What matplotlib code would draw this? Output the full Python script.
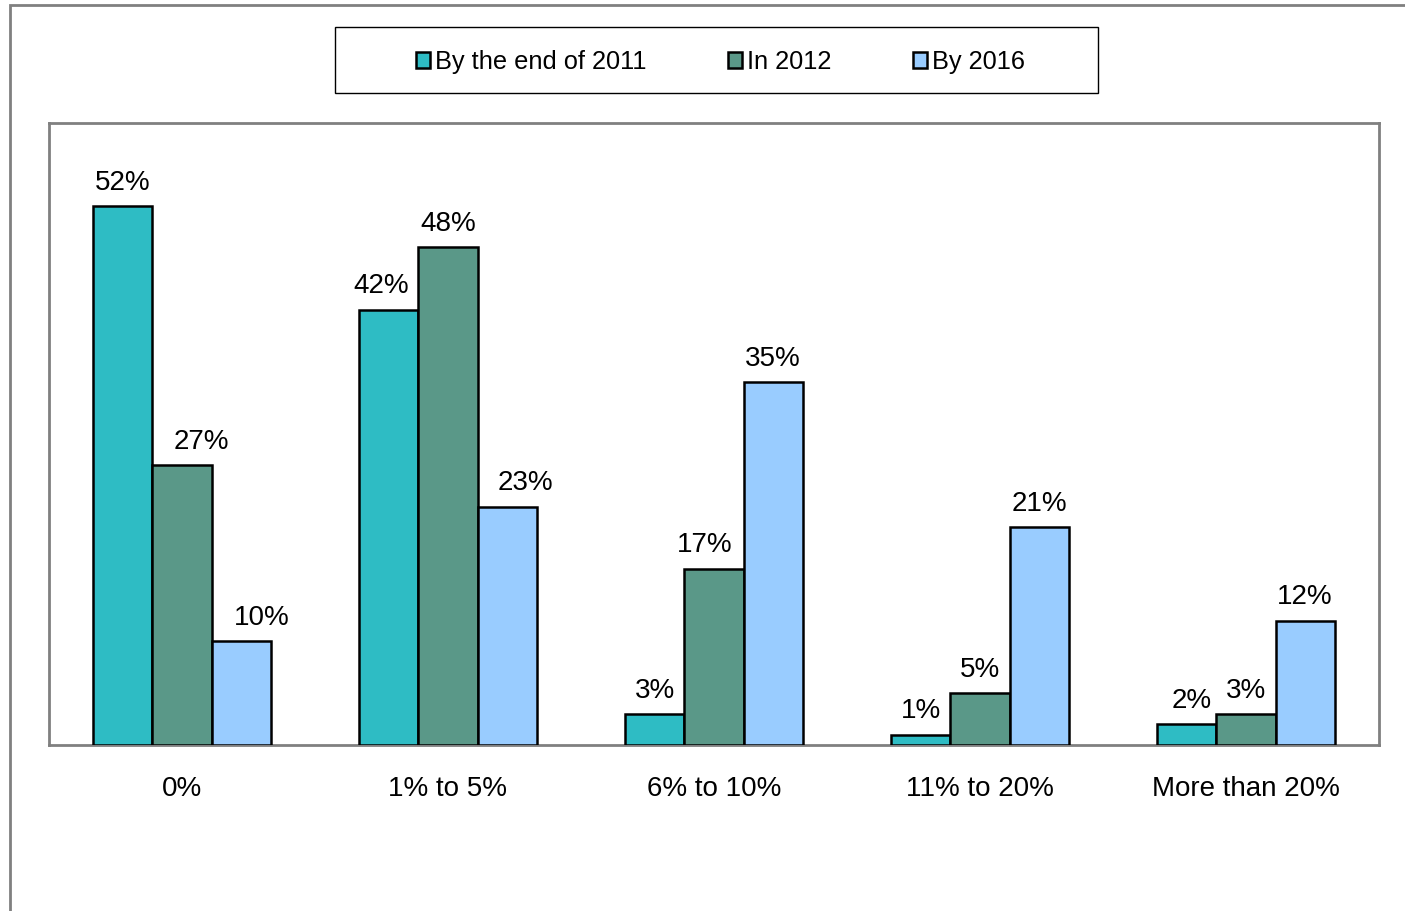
import matplotlib
matplotlib.use('Agg')
from matplotlib import pyplot as plt
from matplotlib.patches import Rectangle
import numpy as np

plt.rcParams['font.family'] = ['Liberation Sans', 'DejaVu Sans']

categories = ['0%', '1% to 5%', '6% to 10%', '11% to 20%', 'More than 20%']
series = ['By the end of 2011', 'In 2012', 'By 2016']
end_2011 = [52, 42, 3, 1, 2]
in_2012 = [27, 48, 17, 5, 3]
by_2016 = [10, 23, 35, 21, 12]
colors = ['#2EBCC4', '#5A9888', '#99CCFF']

# horizontal nudges for data labels (pixels), like Excel's auto placement
nudge = [[0, -8, 0, 0, 5],
         [19, 0, -9, 0, 0],
         [21, 18, 0, 0, 0]]

W, H = 1405, 911
fig = plt.figure(figsize=(W / 100, H / 100), dpi=100)

# outer chart border (right and bottom edges run off the image)
fig.patches.append(Rectangle((9.5 / W, -0.05), 1.1, 1 - 5.5 / H + 0.05,
                             transform=fig.transFigure, fill=False,
                             edgecolor='#808080', linewidth=2))
# legend box
fig.patches.append(Rectangle((335 / W, 1 - 93 / H), (1098 - 335) / W, 66 / H,
                             transform=fig.transFigure, fill=False,
                             edgecolor='black', linewidth=1))

ax = fig.add_axes([49 / W, 1 - 745 / H, (1379 - 49) / W, (745 - 123) / H])
x = np.arange(len(categories))
bw = 0.222
px = (len(categories)) / (1379 - 49)  # data units per pixel
for i, (vals, name) in enumerate(zip([end_2011, in_2012, by_2016], series)):
    pos = x + (i - 1) * bw
    ax.bar(pos, vals, bw, color=colors[i], edgecolor='black',
           linewidth=1.8, label=name, zorder=3)
    for j, (p, v) in enumerate(zip(pos, vals)):
        ax.text(p + nudge[i][j] * px, v + 1.0, f'{v}%', ha='center',
                va='bottom', fontsize=20)

ax.set_xlim(-0.5, len(categories) - 0.5)
ax.set_ylim(0, 60)
ax.set_yticks([])
ax.set_xticks(x)
ax.set_xticklabels(categories, fontsize=20)
ax.tick_params(axis='x', length=0, pad=22)
for s in ['top', 'right', 'left', 'bottom']:
    ax.spines[s].set_color('#808080')
    ax.spines[s].set_linewidth(2)

fig.legend(loc='center', bbox_to_anchor=(720.5 / W, 1 - 62 / H),
           ncol=3, fontsize=18.3, frameon=False,
           handlelength=0.55, handleheight=0.55, handletextpad=0.2,
           columnspacing=3.2, borderaxespad=0)

fig.savefig('out.png', dpi=100)
